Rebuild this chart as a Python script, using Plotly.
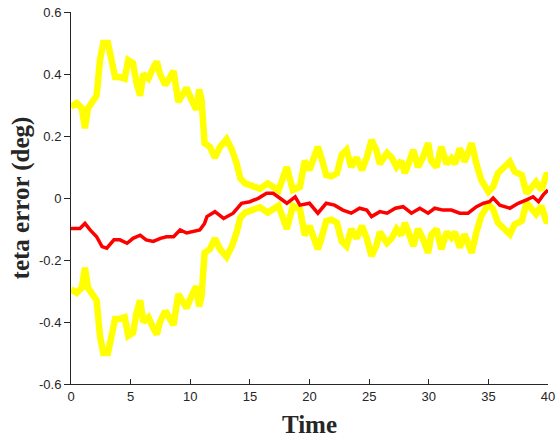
import plotly.graph_objects as go

# ---- data ----
t_bound = [0, 0.48, 0.9, 1.17, 1.43, 1.85, 2.15, 2.43, 2.7, 3.1,
           3.4, 3.7, 4.1, 4.5, 4.8, 5.2, 5.5, 5.8, 6.06, 6.5,
           6.9, 7.2, 7.46, 7.9, 8.16, 8.6, 9.0, 9.4, 9.7, 10.1,
           10.5, 10.75, 10.95, 11.2, 11.65, 12.07, 12.5, 13.05, 13.5, 13.9,
           14.2, 14.6, 15.3, 15.85, 16.5, 17.1, 17.4, 18.1, 18.6, 19.2,
           19.6, 20.0, 20.7, 21.0, 21.4, 21.85, 22.3, 22.7, 23.1, 23.5,
           23.95, 24.4, 24.8, 25.2, 25.6, 25.9, 26.5, 26.9, 27.3, 27.7,
           28.0, 28.3, 28.7, 29.1, 29.5, 29.95, 30.2, 30.65, 31.05, 31.5,
           31.9, 32.2, 32.6, 33.0, 33.6, 34.0, 34.4, 35.0, 35.4, 35.8,
           36.4, 36.8, 37.2, 37.8, 38.2, 38.6, 39.0, 39.45, 39.9, 40]

bound_upper = [0.294, 0.306, 0.29, 0.225, 0.29, 0.316, 0.33, 0.445, 0.50, 0.50,
               0.435, 0.39, 0.39, 0.385, 0.445, 0.435, 0.37, 0.33, 0.40, 0.385,
               0.42, 0.44, 0.40, 0.365, 0.38, 0.41, 0.31, 0.34, 0.355, 0.316,
               0.285, 0.35, 0.316, 0.177, 0.165, 0.13, 0.165, 0.19, 0.155, 0.11,
               0.063, 0.047, 0.036, 0.03, 0.047, 0.03, 0.025, 0.10, 0.026, 0.036,
               0.12, 0.09, 0.165, 0.13, 0.074, 0.07, 0.08, 0.14, 0.155, 0.10,
               0.13, 0.09, 0.13, 0.187, 0.155, 0.11, 0.145, 0.13, 0.10, 0.12,
               0.08, 0.11, 0.155, 0.10, 0.13, 0.177, 0.12, 0.10, 0.165, 0.11,
               0.128, 0.11, 0.16, 0.117, 0.177, 0.11, 0.058, 0.02, 0.036, 0.08,
               0.10, 0.117, 0.085, 0.074, 0.015, 0.036, 0.052, 0.026, 0.08, 0.075]

bound_lower = [-0.294, -0.306, -0.29, -0.225, -0.29, -0.316, -0.33, -0.445, -0.50, -0.50,
               -0.435, -0.39, -0.39, -0.385, -0.445, -0.435, -0.37, -0.33, -0.40, -0.385,
               -0.42, -0.44, -0.40, -0.365, -0.38, -0.41, -0.31, -0.34, -0.355, -0.316,
               -0.285, -0.35, -0.316, -0.177, -0.165, -0.13, -0.165, -0.19, -0.155, -0.11,
               -0.063, -0.047, -0.036, -0.03, -0.047, -0.03, -0.025, -0.10, -0.026, -0.036,
               -0.12, -0.09, -0.165, -0.13, -0.074, -0.07, -0.08, -0.14, -0.155, -0.10,
               -0.13, -0.09, -0.13, -0.187, -0.155, -0.11, -0.145, -0.13, -0.10, -0.12,
               -0.08, -0.11, -0.155, -0.10, -0.13, -0.177, -0.12, -0.10, -0.165, -0.11,
               -0.128, -0.11, -0.16, -0.117, -0.177, -0.11, -0.058, -0.02, -0.036, -0.08,
               -0.10, -0.117, -0.085, -0.074, -0.015, -0.036, -0.052, -0.026, -0.08, -0.075]

t_err = [0, 0.75, 1.17, 1.6, 2.15, 2.6, 3.0, 3.6, 4.1, 4.7,
         5.2, 5.8, 6.3, 6.9, 7.5, 8.0, 8.6, 9.15, 9.7, 10.25,
         10.8, 11.2, 11.4, 12.07, 12.8, 13.6, 14.3, 15.0, 15.7, 16.4,
         16.95, 17.5, 18.1, 18.8, 19.2, 20.0, 20.7, 21.4, 22.1, 22.8,
         23.5, 24.2, 24.8, 25.2, 25.9, 26.5, 27.2, 27.85, 28.55, 29.25,
         29.95, 30.5, 31.2, 31.9, 32.6, 33.3, 34.0, 34.6, 35.1, 35.4,
         35.96, 36.8, 37.5, 38.2, 38.75, 39.2, 39.6, 40]

teta_err = [-0.098, -0.098, -0.082, -0.103, -0.125, -0.157, -0.162, -0.135, -0.135, -0.146,
            -0.13, -0.12, -0.135, -0.14, -0.13, -0.125, -0.125, -0.103, -0.113, -0.109,
            -0.103, -0.082, -0.06, -0.044, -0.066, -0.049, -0.017, -0.012, -0.001, 0.015,
            0.015, 0.0, -0.017, 0.004, -0.023, -0.017, -0.049, -0.017, -0.023, -0.039,
            -0.049, -0.033, -0.039, -0.06, -0.044, -0.049, -0.033, -0.028, -0.049, -0.033,
            -0.049, -0.033, -0.039, -0.039, -0.049, -0.049, -0.028, -0.017, -0.012, 0.0,
            -0.023, -0.033, -0.017, -0.006, 0.004, -0.012, 0.01, 0.026]

x_ticks = [0, 5, 10, 15, 20, 25, 30, 35, 40]
y_ticks = [-0.6, -0.4, -0.2, 0, 0.2, 0.4, 0.6]
y_ticktext = ["-0.6", "-0.4", "-0.2", "0", "0.2", "0.4", "0.6"]

fig = go.Figure()
fig.add_trace(go.Scatter(x=t_bound, y=bound_upper, mode="lines",
                         line=dict(color="#FFFF00", width=6.5)))
fig.add_trace(go.Scatter(x=t_bound, y=bound_lower, mode="lines",
                         line=dict(color="#FFFF00", width=6.5)))
fig.add_trace(go.Scatter(x=t_err, y=teta_err, mode="lines",
                         line=dict(color="#FF0000", width=3.5)))

axis_col = "#262626"
tick_font = dict(family="Liberation Sans, Arial, sans-serif", size=13, color=axis_col)
title_font = dict(family="Liberation Serif, Times New Roman, serif", size=25, color=axis_col)

fig.update_layout(
    width=559, height=439,
    margin=dict(l=71, r=11, t=12, b=55),
    plot_bgcolor="white", paper_bgcolor="white",
    showlegend=False,
    xaxis=dict(range=[0, 40], tickvals=x_ticks, ticks="inside", ticklen=5,
               tickcolor=axis_col, showline=True, linecolor=axis_col, linewidth=1,
               showgrid=False, zeroline=False, tickfont=tick_font, automargin=False,
               title=dict(text="<b>Time</b>", font=title_font, standoff=12)),
    yaxis=dict(range=[-0.6, 0.6], tickvals=y_ticks, ticktext=y_ticktext,
               ticks="outside", ticklen=6, tickcolor=axis_col,
               showline=True, linecolor=axis_col, linewidth=1,
               showgrid=False, zeroline=False, tickfont=tick_font, automargin=False,
               title=dict(text="<b>teta error (deg)</b>", font=title_font, standoff=2)),
)

fig.write_html("out.html")
